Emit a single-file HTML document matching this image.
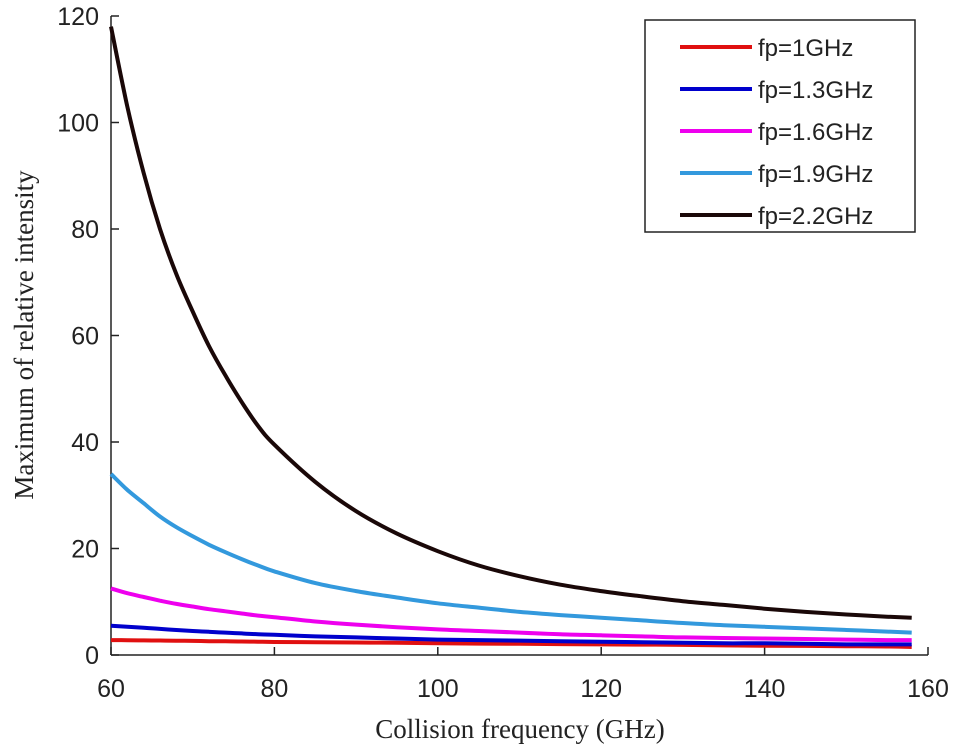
<!DOCTYPE html>
<html><head><meta charset="utf-8"><style>
html,body{margin:0;padding:0;background:#fff;}
svg text{font-family:"Liberation Sans",sans-serif;}
</style></head><body>
<svg id="chart" width="955" height="751" xmlns="http://www.w3.org/2000/svg">
<g id="axes"></g>
<g id="series"></g>
<g id="legend"></g>
<text x="520" y="738" text-anchor="middle" style="font-family:'Liberation Serif',serif;font-size:27px" fill="#222">Collision frequency (GHz)</text>
<text transform="translate(33,335) rotate(-90)" text-anchor="middle" style="font-family:'Liberation Serif',serif;font-size:27px" fill="#222">Maximum of relative intensity</text>
</svg>
<script>
const xs = [60,62,64,66,68,70,72,74,76,78,80,85,90,95,100,105,110,115,120,125,130,135,140,145,150,155,158];
const seriesNames = ["fp=1GHz","fp=1.3GHz","fp=1.6GHz","fp=1.9GHz","fp=2.2GHz"];
const fp1 = [2.8,2.78,2.75,2.72,2.68,2.65,2.6,2.57,2.53,2.5,2.45,2.4,2.35,2.3,2.2,2.15,2.1,2.05,2,1.95,1.9,1.8,1.75,1.7,1.65,1.6,1.5];
const fp13 = [5.5,5.3,5.1,4.9,4.7,4.5,4.35,4.2,4.05,3.9,3.8,3.5,3.3,3.1,2.9,2.8,2.7,2.6,2.5,2.4,2.3,2.2,2.2,2.1,2.0,2.0,2.0];
const fp16 = [12.5,11.6,10.9,10.2,9.6,9.1,8.6,8.2,7.8,7.4,7.1,6.3,5.7,5.2,4.8,4.5,4.2,3.9,3.7,3.5,3.3,3.2,3.1,3,2.9,2.8,2.8];
const fp19 = [34,31,28.5,26,24,22.3,20.7,19.3,18,16.8,15.7,13.5,12,10.8,9.7,8.9,8.1,7.5,7,6.5,6,5.6,5.3,5,4.7,4.4,4.2];
const fp22 = [118,103,90.5,80,71.5,64.5,58,52.5,47.5,43,39.5,32.5,27,22.8,19.5,16.8,14.8,13.2,12,11,10.1,9.4,8.7,8.1,7.6,7.2,7];
const xTicks = [60,80,100,120,140,160];
const yTicks = [0,20,40,60,80,100,120];
const colors = ["#e01010","#0000cc","#ee00ee","#3399dd","#1a0808"];
const NS="http://www.w3.org/2000/svg";
const X0=111,X1=928,Y0=655,Y1=16;
const sx=v=>X0+(v-60)/(160-60)*(X1-X0);
const sy=v=>Y0-(v-0)/(120-0)*(Y0-Y1);
function mk(t,a,p){const e=document.createElementNS(NS,t);for(const k in a)e.setAttribute(k,a[k]);p.appendChild(e);return e;}
const axes=document.getElementById('axes');
let e=mk('line',{x1:X0,y1:Y0,x2:X1,y2:Y0,stroke:'#222','stroke-width':1.5},axes);


e=mk('line',{x1:X0,y1:Y0,x2:X0,y2:Y1,stroke:'#222','stroke-width':1.5},axes);


xTicks.forEach(v=>{
 const t=mk('line',{x1:sx(v),y1:Y0,x2:sx(v),y2:Y0-8,stroke:'#222','stroke-width':1.5},axes);
 
 
 const l=mk('text',{x:sx(v),y:Y0+42,'text-anchor':'middle','font-size':25,fill:'#222'},axes);
 l.textContent=v;
 
 
});
yTicks.forEach(v=>{
 const t=mk('line',{x1:X0,y1:sy(v),x2:X0+8,y2:sy(v),stroke:'#222','stroke-width':1.5},axes);
 
 
 const l=mk('text',{x:X0-12,y:sy(v)+9,'text-anchor':'end','font-size':25,fill:'#222'},axes);
 l.textContent=v;
 
 
});
const data=[fp1,fp13,fp16,fp19,fp22];
const sg=document.getElementById('series');
data.forEach((arr,i)=>{
 const pts=arr.map((v,j)=>[sx(xs[j]),sy(v)]);
 let d='M'+pts[0][0].toFixed(1)+','+pts[0][1].toFixed(1);
 for(let j=0;j<pts.length-1;j++){
  const p0=pts[j-1]||pts[j],p1=pts[j],p2=pts[j+1],p3=pts[j+2]||p2;
  const c1=[p1[0]+(p2[0]-p0[0])/6,p1[1]+(p2[1]-p0[1])/6];
  const c2=[p2[0]-(p3[0]-p1[0])/6,p2[1]-(p3[1]-p1[1])/6];
  d+=' C'+c1.map(n=>n.toFixed(1)).join(',')+' '+c2.map(n=>n.toFixed(1)).join(',')+' '+p2.map(n=>n.toFixed(1)).join(',');
 }
 const p=mk('path',{d:d,fill:'none',stroke:colors[i],'stroke-width':4,'stroke-linejoin':'round'},sg);
 
 
});
const lg=document.getElementById('legend');
const box=mk('rect',{x:645,y:20,width:270,height:212,fill:'#fff',stroke:'#222','stroke-width':1.5},lg);


const ly=[47,89,131,173,215];
seriesNames.forEach((n,i)=>{
 const ln=mk('line',{x1:680,y1:ly[i],x2:752,y2:ly[i],stroke:colors[i],'stroke-width':4},lg);
 
 
 const t=mk('text',{x:758,y:ly[i]+9,'font-size':24,fill:'#222'},lg);
 t.textContent=n;
 
 
});
</script>
</body></html>
